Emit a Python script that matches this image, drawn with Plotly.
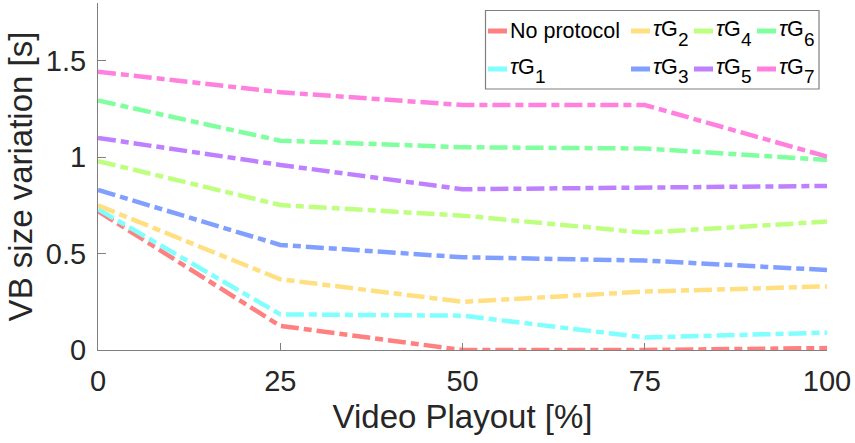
import plotly.graph_objects as go

# Video playout checkpoints [%]
playout = [0, 25, 50, 75, 100]

# VB size variation [s] per configuration
no_protocol = [0.72, 0.125, 0.0, 0.0, 0.01]
tau_g1 = [0.73, 0.185, 0.178, 0.065, 0.09]
tau_g2 = [0.75, 0.367, 0.25, 0.303, 0.33]
tau_g3 = [0.83, 0.545, 0.481, 0.464, 0.415]
tau_g4 = [0.98, 0.752, 0.697, 0.609, 0.666]
tau_g5 = [1.10, 0.96, 0.834, 0.842, 0.851]
tau_g6 = [1.294, 1.086, 1.052, 1.045, 0.986]
tau_g7 = [1.444, 1.337, 1.271, 1.271, 1.003]

# Legend labels: base text and subscript index
label_base = ["No protocol"] + ["<i>τ</i>G"] * 7
label_sub = [""] + [str(k) for k in range(1, 8)]
series = [no_protocol, tau_g1, tau_g2, tau_g3, tau_g4, tau_g5, tau_g6, tau_g7]
colors = ["#ff8080", "#80ffff", "#ffdf80", "#809fff",
          "#bfff80", "#bf80ff", "#80ff9f", "#ff80df"]

x_ticks = [0, 25, 50, 75, 100]
y_ticks = [0, 0.5, 1, 1.5]

FONT = "Liberation Sans, Arial, sans-serif"
W, H = 855, 443
L, R, T, B = 98, 28, 3, 93
AXIS = "#7f7f7f"

fig = go.Figure()
for base, sub, ys, col in zip(label_base, label_sub, series, colors):
    fig.add_trace(go.Scatter(
        x=playout, y=ys, mode="lines",
        name=base + (f"<sub>{sub}</sub>" if sub else ""), showlegend=False,
        line=dict(color=col, width=4.5, dash="18px,5px,8px,5px"),
    ))


def px_x(px):
    return (px - L) / (W - L - R)


def px_y(py):
    return (H - B - py) / (H - B - T)


# Legend: two rows, four columns, filled column by column
box = dict(x0=485.5, x1=819, y0=10.5, y1=89)
fig.add_shape(type="rect", xref="paper", yref="paper",
              x0=px_x(box["x0"]), x1=px_x(box["x1"]),
              y0=px_y(box["y1"]), y1=px_y(box["y0"]),
              line=dict(color=AXIS, width=1.2), fillcolor="white", layer="above")

col_sample_x = [488, 631, 694, 757]
row_y = [31, 69]
for i, (base, sub, col) in enumerate(zip(label_base, label_sub, colors)):
    c, r = divmod(i, 2)
    sx = col_sample_x[c]
    sy = row_y[r]
    fig.add_shape(type="line", xref="paper", yref="paper",
                  x0=px_x(sx), x1=px_x(sx + 19), y0=px_y(sy), y1=px_y(sy),
                  line=dict(color=col, width=5), layer="above")
    fig.add_annotation(xref="paper", yref="paper", x=px_x(sx + 20),
                       y=px_y(sy + (0 if not sub else -2)),
                       text=base, showarrow=False, xanchor="left", yanchor="middle",
                       font=dict(family=FONT, size=21.5, color="#000000"))
    if sub:
        fig.add_annotation(xref="paper", yref="paper", x=px_x(sx + 45), y=px_y(sy + 8),
                           text=sub, showarrow=False, xanchor="left", yanchor="middle",
                           font=dict(family=FONT, size=19, color="#000000"))

fig.update_layout(
    width=W, height=H,
    margin=dict(l=L, r=R, t=T, b=B, pad=0),
    paper_bgcolor="white", plot_bgcolor="white",
    font=dict(family=FONT, color="#262626"),
    xaxis=dict(
        range=[0, 100], tickvals=x_ticks, ticktext=[str(v) for v in x_ticks],
        ticks="inside", ticklen=7, tickcolor=AXIS, tickwidth=1.2,
        showline=True, linecolor=AXIS, linewidth=1.2, showgrid=False, zeroline=False,
        tickfont=dict(size=29, color="#262626"), ticklabelstandoff=5,
        title=dict(text="Video Playout [%]", font=dict(size=33, color="#262626"), standoff=8),
        automargin=False,
    ),
    yaxis=dict(
        range=[0, 1.8], tickvals=y_ticks, ticktext=["0", "0.5", "1", "1.5"],
        ticks="inside", ticklen=8, tickcolor=AXIS, tickwidth=1.2,
        showline=True, linecolor=AXIS, linewidth=1.2, showgrid=False, zeroline=False,
        tickfont=dict(size=29, color="#262626"), ticklabelstandoff=5,
        title=dict(text="VB size variation [s]", font=dict(size=33, color="#262626"), standoff=3),
        automargin=False,
    ),
)

fig.write_html("out.html")
